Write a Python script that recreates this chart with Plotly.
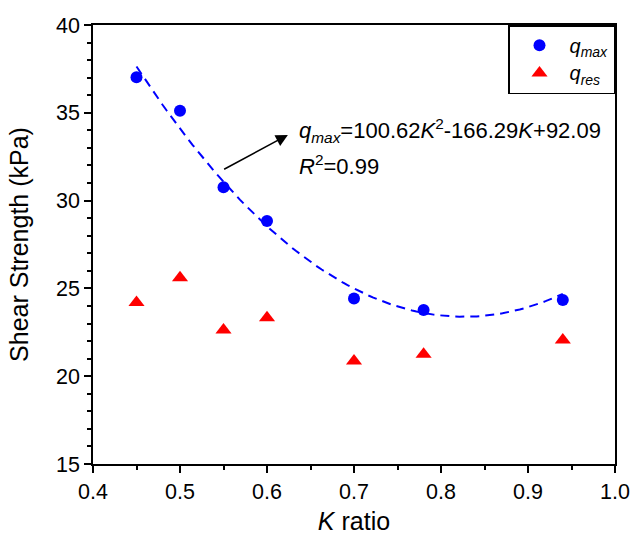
import numpy as np
import plotly.graph_objects as go

k_ratio = [0.45, 0.50, 0.55, 0.60, 0.70, 0.78, 0.94]
q_max = [37.02, 35.12, 30.76, 28.84, 24.43, 23.77, 24.34]
q_res = [24.19, 25.61, 22.63, 23.33, 20.87, 21.25, 22.06]
fit_coeffs = [100.62, -166.29, 92.09]  # q_max = a K^2 + b K + c
fit_range = [0.45, 0.94]

FONT = "Arial, Liberation Sans, sans-serif"

k_fit = np.linspace(fit_range[0], fit_range[1], 100)
q_fit = np.polyval(fit_coeffs, k_fit)

fig = go.Figure()
fig.add_trace(go.Scatter(x=k_fit, y=q_fit, mode="lines",
                         line=dict(color="#0000FF", width=2, dash="9px,6px"),
                         showlegend=False, hoverinfo="skip"))
fig.add_trace(go.Scatter(x=k_ratio, y=q_max, mode="markers",
                         marker=dict(symbol="circle", size=12, color="#0000FF"),
                         name="<span style='font-size:20px'><i>q</i><sub><i>max</i></sub></span>"))
fig.add_trace(go.Scatter(x=k_ratio, y=q_res, mode="markers",
                         marker=dict(symbol="triangle-up", size=14, color="#FF0000"),
                         name="<span style='font-size:20px'><i>q</i><sub><i>res</i></sub></span>"))

axis_common = dict(showline=True, linecolor="black", linewidth=1.5, mirror=True,
                   ticks="outside", ticklen=7, tickwidth=1.5, tickcolor="black",
                   showgrid=False, zeroline=False, automargin=False,
                   tickfont=dict(family=FONT, size=21.5, color="black"))

fig.update_xaxes(range=[0.4, 1.0], dtick=0.1, tickformat=".1f",
                 minor=dict(dtick=0.05, ticks="outside", ticklen=4, tickwidth=1.5, tickcolor="black"),
                 title=dict(text="<i>K</i> ratio", font=dict(family=FONT, size=25, color="black"), standoff=10),
                 **axis_common)
fig.update_yaxes(range=[15, 40], dtick=5,
                 minor=dict(dtick=1, ticks="outside", ticklen=4, tickwidth=1.5, tickcolor="black"),
                 title=dict(text="Shear Strength (kPa)", font=dict(family=FONT, size=25, color="black"), standoff=20),
                 **axis_common)

fig.add_annotation(x=0.624, y=33.74, ax=0.549, ay=31.74, xref="x", yref="y", axref="x", ayref="y",
                   text="", showarrow=True, arrowhead=2, arrowsize=1.6, arrowwidth=1.5, arrowcolor="black")
fig.add_annotation(x=0.634, y=34.0, xref="x", yref="y", xanchor="left", yanchor="middle",
                   text="<i>q</i><sub><i>max</i></sub>=100.62<i>K</i><sup>2</sup>-166.29<i>K</i>+92.09",
                   showarrow=False, font=dict(family=FONT, size=22, color="black"))
fig.add_annotation(x=0.634, y=32.0, xref="x", yref="y", xanchor="left", yanchor="middle",
                   text="<i>R</i><sup>2</sup>=0.99",
                   showarrow=False, font=dict(family=FONT, size=22, color="black"))

fig.update_layout(width=633, height=535, margin=dict(l=93, r=18, t=25, b=71),
                  plot_bgcolor="white", paper_bgcolor="white",
                  font=dict(family=FONT, color="black"),
                  legend=dict(x=1, y=1, xanchor="right", yanchor="top",
                              bordercolor="black", borderwidth=1.5, bgcolor="white",
                              font=dict(family=FONT, size=19, color="black"),
                              itemwidth=50, tracegroupgap=0))

fig.write_html("out.html",
               post_script="document.body.style.margin='0';document.body.style.overflow='hidden';")
